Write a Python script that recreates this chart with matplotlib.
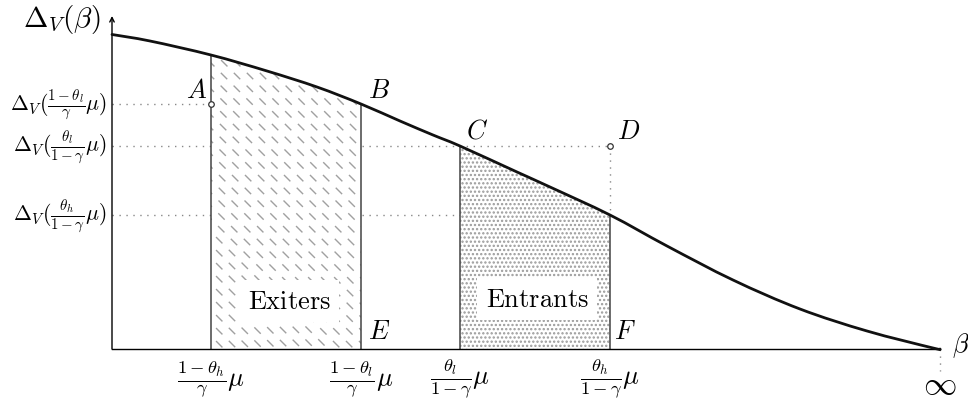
import numpy as np
import matplotlib
matplotlib.use("Agg")
import matplotlib.pyplot as plt
from matplotlib.patches import PathPatch
from matplotlib.path import Path

plt.rcParams['mathtext.fontset'] = 'cm'
plt.rcParams['lines.scale_dashes'] = False
plt.rcParams['hatch.linewidth'] = 1.1
plt.rcParams['hatch.color'] = '#9a9a9a'

# Delta_V(beta): points along the decreasing curve
curve_x = [0.00, 0.38, 0.99, 1.55, 2.05, 2.49, 2.88, 3.21, 3.48, 4.05, 4.38, 4.98,
           5.55, 6.21, 6.88, 7.55, 8.21, 8.28]
curve_y = [3.145, 3.08, 2.94, 2.78, 2.62, 2.45, 2.28, 2.14, 2.03, 1.77, 1.62, 1.34,
           1.03, 0.69, 0.40, 0.18, 0.01, 0.00]

# thresholds on the beta axis
beta_ticks = [0.99, 2.49, 3.48, 4.98]
beta_labels = [r'$\frac{1-\theta_h}{\gamma}\mu$', r'$\frac{1-\theta_l}{\gamma}\mu$',
               r'$\frac{\theta_l}{1-\gamma}\mu$', r'$\frac{\theta_h}{1-\gamma}\mu$']
beta_inf = 8.28

# levels marked on the vertical axis
level_vals = [2.45, 2.03, 1.34]
level_labels = [r'$\Delta_V(\frac{1-\theta_l}{\gamma}\mu)$',
                r'$\Delta_V(\frac{\theta_l}{1-\gamma}\mu)$',
                r'$\Delta_V(\frac{\theta_h}{1-\gamma}\mu)$']

P = np.column_stack([curve_x, curve_y])
n = len(P)


def idx(b):
    return int(np.argmin(np.abs(P[:, 0] - b)))


def smooth_segments(i0, i1):
    # "smooth" plot through the points: cubic pieces with Catmull-Rom tangents
    verts, codes = [], []
    for i in range(i0, i1):
        p0 = P[max(i - 1, 0)]
        p1, p2 = P[i], P[i + 1]
        p3 = P[min(i + 2, n - 1)]
        verts += [p1 + (p2 - p0) / 6, p2 - (p3 - p1) / 6, p2]
        codes += [Path.CURVE4] * 3
    return verts, codes


def region(x0, x1):
    i0, i1 = idx(x0), idx(x1)
    v, c = smooth_segments(i0, i1)
    verts = [(x0, 0), P[i0]] + v + [(x1, 0), (x0, 0)]
    codes = [Path.MOVETO, Path.LINETO] + c + [Path.LINETO, Path.CLOSEPOLY]
    return Path(verts, codes)


fig = plt.figure(figsize=(9.68, 4.02), dpi=100)
ax = fig.add_axes([0, 0, 1, 1])
ax.set_xlim(-1.12, 8.56)
ax.set_ylim(-0.52, 3.50)
ax.axis('off')

dot = dict(color='#888888', lw=1.0, ls=(0, (1, 4)), zorder=1)

# dotted guide lines
ax.plot([0, beta_ticks[0]], [level_vals[0]] * 2, **dot)
ax.plot([0, beta_ticks[3]], [level_vals[1]] * 2, **dot)
ax.plot([0, beta_ticks[3]], [level_vals[2]] * 2, **dot)
ax.plot([beta_ticks[3]] * 2, [level_vals[1], level_vals[2]], **dot)
ax.plot([beta_inf] * 2, [0, -0.22], **dot)

# exiters area: white base + dashed diagonal hatch
ex = PathPatch(region(beta_ticks[0], beta_ticks[1]), facecolor='white',
               edgecolor='none', zorder=2)
ax.add_patch(ex)
for c in np.arange(beta_ticks[0], beta_ticks[1] + 3.6, 0.13):
    ln, = ax.plot([c - 3.4, c + 0.4], [3.4, -0.4], color='#a0a0a0', lw=1.0,
                  dashes=(6.5, 6.5), zorder=3)
    ln.set_clip_path(ex)

# entrants area: dotted fill
en = PathPatch(region(beta_ticks[2], beta_ticks[3]), facecolor='white',
               edgecolor='#9a9a9a', hatch='....', lw=0, zorder=2)
ax.add_patch(en)

# vertical boundaries
for b in beta_ticks:
    ax.plot([b, b], [0, P[idx(b), 1]], color='#444444', lw=1.1, zorder=4)

# axes
ax.plot([0, beta_inf], [0, 0], color='black', lw=1.0, zorder=4)
ax.annotate('', xy=(0, 3.33), xytext=(0, 0),
            arrowprops=dict(arrowstyle='->', lw=1.0, color='black',
                            shrinkA=0, shrinkB=0, mutation_scale=8), zorder=4)

# the curve
v, c = smooth_segments(0, n - 1)
curve = Path([P[0]] + v, [Path.MOVETO] + c)
ax.add_patch(PathPatch(curve, facecolor='none', edgecolor='#111111', lw=2.0,
                       capstyle='round', zorder=5))

# marker points A and D
ax.plot([beta_ticks[0], beta_ticks[3]], [level_vals[0], level_vals[1]], 'o', ms=4,
        mfc='white', mec='#333333', mew=0.9, zorder=6)

# point names
fs = 19
ax.text(beta_ticks[0] - 0.14, level_vals[0] + 0.14, r'$A$', fontsize=fs, ha='center', va='center')
ax.text(beta_ticks[1] + 0.18, level_vals[0] + 0.14, r'$B$', fontsize=fs, ha='center', va='center')
ax.text(beta_ticks[2] + 0.17, level_vals[1] + 0.15, r'$C$', fontsize=fs, ha='center', va='center')
ax.text(beta_ticks[3] + 0.19, level_vals[1] + 0.15, r'$D$', fontsize=fs, ha='center', va='center')
ax.text(beta_ticks[1] + 0.18, 0.18, r'$E$', fontsize=fs, ha='center', va='center')
ax.text(beta_ticks[3] + 0.15, 0.18, r'$F$', fontsize=fs, ha='center', va='center')

# region names
box = dict(facecolor='white', edgecolor='none', pad=6)
ax.text((beta_ticks[0] + beta_ticks[1]) / 2 + 0.03, 0.48, r'$\mathrm{Exiters}$', fontsize=19,
        ha='center', va='center', bbox=box, zorder=7)
ax.text((beta_ticks[2] + beta_ticks[3]) / 2 + 0.02, 0.50, r'$\mathrm{Entrants}$', fontsize=19,
        ha='center', va='center', bbox=box, zorder=7)

# axis labels
ax.text(-0.5, 3.30, r'$\Delta_V(\beta)$', fontsize=21, ha='center', va='center')
ax.text(beta_inf + 0.21, 0.04, r'$\beta$', fontsize=19, ha='center', va='center')
ax.text(beta_inf, -0.35, r'$\infty$', fontsize=24, ha='center', va='center')

for b, lab in zip(beta_ticks, beta_labels):
    ax.text(b, -0.28, lab, fontsize=19, ha='center', va='center')
for v_, lab in zip(level_vals, level_labels):
    ax.text(-0.05, v_, lab, fontsize=15.5, ha='right', va='center')

fig.savefig('out.png', dpi=100)
